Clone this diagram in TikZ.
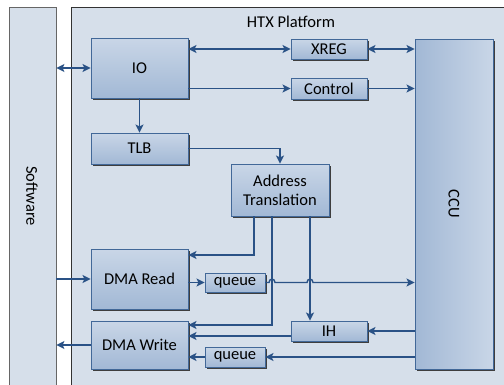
\documentclass[tikz,border=0pt]{standalone}
\usepackage{fontspec}
\setmainfont{Carlito}
\usetikzlibrary{arrows.meta,shadows}

\definecolor{panelfill}{RGB}{214,223,234}
\definecolor{boxtop}{RGB}{201,214,231}
\definecolor{boxbot}{RGB}{162,184,213}
\definecolor{boxline}{RGB}{66,104,152}
\definecolor{wirecol}{RGB}{42,82,134}
\definecolor{shadowcol}{RGB}{62,62,62}

\tikzset{
  txt/.style={font=\fontsize{16.5}{19}\selectfont, text=black},
  panel/.style={draw=black!60, line width=0.8pt, fill=panelfill},
  block/.style={txt, draw=boxline, line width=0.9pt, top color=boxtop, bottom color=boxbot,
    drop shadow={shadow xshift=2pt, shadow yshift=-2pt, fill=shadowcol, opacity=1},
    inner sep=0pt, align=center},
  wire/.style={draw=wirecol, line width=1.4pt},
  >={Stealth[length=8pt,width=8pt,inset=1.8pt]}
}

\begin{document}
\begin{tikzpicture}[x=1pt,y=-1pt]
  \useasboundingbox (0,0) rectangle (504,384);
  \clip (0,0) rectangle (504,384);
  \fill[white] (0,0) rectangle (504,384);

  % outer panels
  \node[panel, minimum width=47pt, minimum height=390pt, inner sep=0pt] (sw) at (32.5,202) {};
  \node[txt, rotate=-90] (swlabel) at (32,196) {Software};
  \draw[panel, draw=black!80] (71,7) rectangle (510,392);
  \node[txt] (htx) at (291,22) {HTX Platform};

  % blocks
  \node[block, minimum width=97pt, minimum height=60pt] (io)   at (139.5,68)    {IO};
  \node[block, minimum width=97pt, minimum height=31pt] (tlb)  at (139.5,148.5) {TLB};
  \node[block, minimum width=76pt, minimum height=20pt] (xreg) at (329,49)      {XREG};
  \node[block, minimum width=76pt, minimum height=21pt] (ctrl) at (329,88.5)    {Control};
  \node[block, minimum width=98pt, minimum height=52pt] (at)   at (280,190)     {Address\\Translation};
  \node[block, minimum width=97pt, minimum height=60pt] (dmar) at (139.5,279)   {DMA Read};
  \node[block, minimum width=97pt, minimum height=48pt] (dmaw) at (139.5,345)   {DMA Write};
  \node[block, minimum width=60pt, minimum height=19pt] (q1)   at (235,282.5)   {queue};
  \node[block, minimum width=60pt, minimum height=20pt] (q2)   at (235,357)     {queue};
  \node[block, minimum width=76pt, minimum height=20pt] (ih)   at (329,331)     {IH};
  \node[block, minimum width=78pt, minimum height=330pt,
        left color=boxbot, right color=boxtop] (ccu) at (454,204) {};
  \node[txt, rotate=-90] (ccul) at (454,204) {CCU};

  % software side
  \draw[wire,<->] (sw.east |- io.west) -- (io.west);
  \draw[wire,->] (sw.east |- dmar.west) -- (dmar.west);
  \draw[wire,->] (dmaw.west) -- (sw.east |- dmaw.west);

  % IO fan-out
  \draw[wire,<->] (io.east |- xreg.west) -- (xreg.west);
  \draw[wire,<->] (xreg.east) -- (ccu.west |- xreg.east);
  \draw[wire,->] (io.east |- ctrl.west) -- (ctrl.west);
  \draw[wire,->] (ctrl.east) -- (ccu.west |- ctrl.east);
  \draw[wire,->] (io.south) -- (tlb.north);
  \draw[wire,->] (tlb.east) -| (at.north);

  % address translation outputs
  \coordinate (ta) at ([xshift=-26pt]at.south);
  \coordinate (tb) at ([xshift=-8pt]at.south);
  \coordinate (tc) at ([xshift=30pt]at.south);
  \draw[wire,->] (ta) |- ([yshift=24pt]dmar.east);
  \draw[wire,->] (tb) |- ([yshift=20pt]dmaw.east);
  \draw[wire,->] (tc) -- (tc |- ih.north);

  % read path, hopping over the two vertical wires
  \draw[wire,->] (dmar.east |- q1.west) -- (q1.west);
  \coordinate (h1) at (tb |- q1.east);
  \coordinate (h2) at (tc |- q1.east);
  \draw[wire,->] (q1.east) -- ([xshift=-3pt]h1)
      .. controls ([xshift=-3pt,yshift=4.5pt]h1) and ([xshift=3pt,yshift=4.5pt]h1) .. ([xshift=3pt]h1)
      -- ([xshift=-3pt]h2)
      .. controls ([xshift=-3pt,yshift=4.5pt]h2) and ([xshift=3pt,yshift=4.5pt]h2) .. ([xshift=3pt]h2)
      -- (ccu.west |- q1.east);

  % write path
  \coordinate (ihout) at ([yshift=-5pt]ih.west);
  \draw[wire,->] (ccu.west |- ih.east) -- (ih.east);
  \draw[wire,->] (ihout) -- (dmaw.east |- ihout);
  \draw[wire,->] (ccu.west |- q2.east) -- (q2.east);
  \draw[wire,->] (q2.west) -- (dmaw.east |- q2.west);
\end{tikzpicture}
\end{document}
